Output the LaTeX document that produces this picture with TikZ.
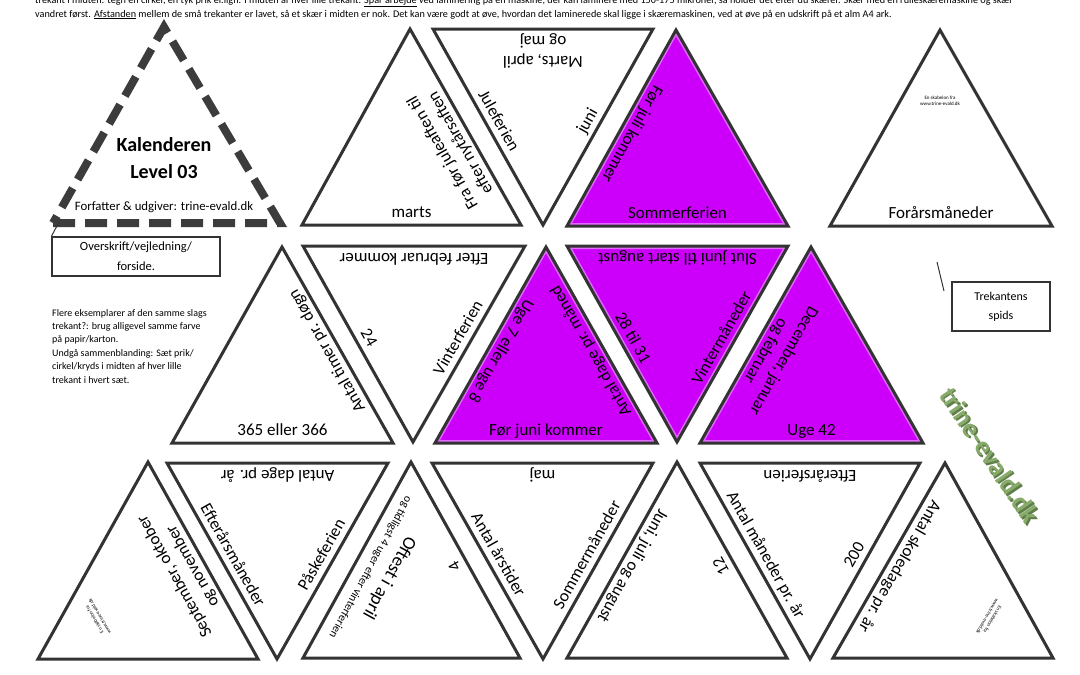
\documentclass[tikz,border=0pt]{standalone}
\usepackage{fontspec}
\setmainfont{Carlito}
\usetikzlibrary{calc}
\definecolor{edgec}{RGB}{51,51,51}
\definecolor{dashc}{RGB}{60,60,60}
\definecolor{purp}{RGB}{204,0,250}
\definecolor{purpl}{RGB}{226,105,255}
\definecolor{logoc}{RGB}{136,170,106}
\definecolor{logod}{RGB}{95,125,72}
\newcommand\elab[5][]{\path (#3) -- node[lbl,#1] (#2) {#5} (#4);}
\newcommand\purpletri[3]{%
  \fill[purp] (#1)--(#2)--(#3)--cycle;
  \begin{scope}\clip (#1)--(#2)--(#3)--cycle;
    \draw[purpl, line width=6pt] (#1)--(#2)--(#3)--cycle;
  \end{scope}
  \draw[tri, fill=none] (#1)--(#2)--(#3)--cycle;}
\newcommand\whitetri[3]{\draw[tri] (#1)--(#2)--(#3)--cycle;}
\begin{document}
\begin{tikzpicture}[x=1pt,y=-1pt,
  tri/.style={draw=edgec, line width=3pt, line join=miter, fill=white},
  dashtri/.style={draw=dashc, line width=8pt, line join=miter, dash pattern=on 22pt off 10pt},
  lbl/.style={font=\fontsize{17}{20.5}\selectfont, inner sep=0pt, text depth=0pt, sloped, allow upside down, midway, above=7pt, align=center},
  tinytxt/.style={font=\fontsize{5}{6}\selectfont, align=center, inner sep=0pt},
  boxnode/.style={draw=edgec, line width=1.2pt, align=center, inner sep=0pt}]
\useasboundingbox (0,0) rectangle (1080,675);
\fill[white] (0,0) rectangle (1080,675);
\clip (0,0) rectangle (1080,675);

% top instructions
\node[anchor=base west, inner sep=0pt, font=\fontsize{10.2}{12}\selectfont] (top1) at (35,3)
  {trekant i midten: tegn en cirkel, en tyk prik el.lign. I midten af hver lille trekant. \underline{Spar arbejde} ved laminering på en maskine, der kan laminere med 150-175 mikroner, så holder det efter du skærer. Skær med en rulleskæremaskine og skær};
\node[anchor=base west, inner sep=0pt, font=\fontsize{10.2}{12}\selectfont] (top2) at (35,17)
  {vandret først. \underline{Afstanden} mellem de små trekanter er lavet, så et skær i midten er nok. Det kan være godt at øve, hvordan det laminerede skal ligge i skæremaskinen, ved at øve på en udskrift på et alm A4 ark.};

% ---------- title triangle
\coordinate (T1) at (164,27); \coordinate (T2) at (53,223); \coordinate (T3) at (280,223);
\draw[dashtri] (T2) -- (T3) -- (T1) -- cycle;
\node[font=\fontsize{20}{22}\selectfont\bfseries] (kal) at (164,145) {Kalenderen};
\node[font=\fontsize{20}{22}\selectfont\bfseries] (lvl) at (164,172) {Level 03};
\node[font=\fontsize{12.8}{14}\selectfont] (forf) at (164,207) {Forfatter \& udgiver: trine-evald.dk};
\node[boxnode, minimum width=168pt, minimum height=39pt, font=\fontsize{12.5}{20}\selectfont] (ovk) at (136,256.5) {Overskrift/vejledning/\\forside.};
\coordinate (tipL) at (59,222);
\draw[edgec, line width=1pt] (ovk.north west) -- (tipL);
\node[anchor=north west, align=left, inner sep=0pt, font=\fontsize{10}{13.4}\selectfont] (info) at (52,309)
  {Flere eksemplarer af den samme slags\\trekant?: brug alligevel samme farve\\på papir/karton.\\Undgå sammenblanding: Sæt prik/\\cirkel/kryds i midten af hver lille\\trekant i hvert sæt.};

% ---------- row 1
\coordinate (A1) at (410,29); \coordinate (A2) at (302,225); \coordinate (A3) at (521,225);
\coordinate (B1) at (433,29); \coordinate (B2) at (653,29); \coordinate (B3) at (543,225);
\coordinate (C1) at (676,30); \coordinate (C2) at (567,226); \coordinate (C3) at (788,226);
\coordinate (D1) at (940,30); \coordinate (D2) at (830,226); \coordinate (D3) at (1052,226);
\whitetri{A1}{A2}{A3}
\whitetri{B1}{B2}{B3}
\purpletri{C1}{C2}{C3}
\whitetri{D1}{D2}{D3}
\elab{lA1}{A2}{A3}{marts}
\elab[pos=0.45]{lA2}{A3}{A1}{Fra før juleaften til\\efter nytårsaften}
\elab{lB1}{B2}{B1}{Marts, april\\og maj}
\elab{lB2}{B1}{B3}{Juleferien}
\elab{lB3}{B3}{B2}{juni}
\elab{lC1}{C2}{C3}{Sommerferien}
\elab{lC2}{C1}{C2}{Før juli kommer}
\elab{lD1}{D2}{D3}{Forårsmåneder}
\node[tinytxt] (skD) at (940,101) {En skabelon fra\\www.trine-evald.dk};

% ---------- row 2
\coordinate (F1) at (282,247); \coordinate (F2) at (172,443); \coordinate (F3) at (393,443);
\coordinate (E1) at (303,246); \coordinate (E2) at (525,246); \coordinate (E3) at (413,442);
\coordinate (G1) at (546,247); \coordinate (G2) at (435,443); \coordinate (G3) at (657,443);
\coordinate (H1) at (567,246); \coordinate (H2) at (788,246); \coordinate (H3) at (677,442);
\coordinate (I1) at (811,247); \coordinate (I2) at (700,443); \coordinate (I3) at (923,443);
\whitetri{F1}{F2}{F3}
\whitetri{E1}{E2}{E3}
\purpletri{G1}{G2}{G3}
\purpletri{H1}{H2}{H3}
\purpletri{I1}{I2}{I3}
\elab{lF1}{F2}{F3}{365 eller 366}
\elab{lF2}{F3}{F1}{Antal timer pr. døgn}
\elab{lE1}{E2}{E1}{Efter februar kommer}
\elab{lE2}{E1}{E3}{24}
\elab{lE3}{E3}{E2}{Vinterferien}
\elab{lG1}{G2}{G3}{Før juni kommer}
\elab{lG2}{G1}{G2}{Uge 7 eller uge 8}
\elab{lG3}{G3}{G1}{Antal dage pr. måned}
\elab{lH1}{H2}{H1}{Slut juni til start august}
\elab{lH2}{H1}{H3}{28 til 31}
\elab{lH3}{H3}{H2}{Vintermåneder}
\elab{lI1}{I2}{I3}{Uge 42}
\elab{lI2}{I1}{I2}{December, januar\\og februar}

% Trekantens spids
\node[boxnode, minimum width=98pt, minimum height=49pt, font=\fontsize{12}{19}\selectfont] (spids) at (1001,306.5) {Trekantens\\spids};
\coordinate (s1) at (937,262); \coordinate (s2) at (944,291);
\draw[edgec, line width=1pt] (s1) -- (s2);

% ---------- row 3
\coordinate (J1) at (148,462); \coordinate (J2) at (38,659); \coordinate (J3) at (258,659);
\coordinate (K1) at (167,463); \coordinate (K2) at (388,463); \coordinate (K3) at (277,659);
\coordinate (L1) at (411,462); \coordinate (L2) at (303,658); \coordinate (L3) at (520,658);
\coordinate (M1) at (432,463); \coordinate (M2) at (653,463); \coordinate (M3) at (543,659);
\coordinate (N1) at (677,462); \coordinate (N2) at (567,658); \coordinate (N3) at (787,658);
\coordinate (O1) at (700,463); \coordinate (O2) at (920,463); \coordinate (O3) at (810,659);
\coordinate (P1) at (945,463); \coordinate (P2) at (833,658); \coordinate (P3) at (1053,658);
\whitetri{J1}{J2}{J3}
\whitetri{K1}{K2}{K3}
\whitetri{L1}{L2}{L3}
\whitetri{M1}{M2}{M3}
\whitetri{N1}{N2}{N3}
\whitetri{O1}{O2}{O3}
\whitetri{P1}{P2}{P3}
\elab{lJ1}{J3}{J1}{September, oktober\\og november}
\node[tinytxt, rotate=120] (skJ) at (97,618) {En skabelon fra\\www.trine-evald.dk};
\elab{lK1}{K2}{K1}{Antal dage pr. år}
\elab{lK2}{K1}{K3}{Efterårsmåneder}
\elab{lK3}{K3}{K2}{Påskeferien}
\elab[above=5pt]{lL1}{L1}{L2}{{\fontsize{18.5}{20}\selectfont Oftest i april}\\[-1pt]{\fontsize{11.5}{13}\selectfont og tidligst 4 uger efter vinterferien}}
\elab{lL2}{L3}{L1}{4}
\elab{lM1}{M2}{M1}{maj}
\elab{lM2}{M1}{M3}{Antal årstider}
\elab{lM3}{M3}{M2}{Sommermåneder}
\elab{lN1}{N1}{N2}{Juni, juli og august}
\elab{lN2}{N3}{N1}{12}
\elab{lO1}{O2}{O1}{Efterårsferien}
\elab{lO2}{O1}{O3}{Antal måneder pr. år}
\elab{lO3}{O3}{O2}{200}
\elab{lP1}{P1}{P2}{Antal skoledage pr. år}
\node[tinytxt, rotate=-120] (skP) at (990,618) {En skabelon fra\\www.trine-evald.dk};

% logo
\node[rotate=-56, font=\fontsize{27}{30}\selectfont\bfseries, text=logod] (logoS) at (991.5,456.5) {trine-evald.dk};
\node[rotate=-56, font=\fontsize{27}{30}\selectfont\bfseries, text=logoc] (logo) at (990,455) {trine-evald.dk};
\end{tikzpicture}
\end{document}
